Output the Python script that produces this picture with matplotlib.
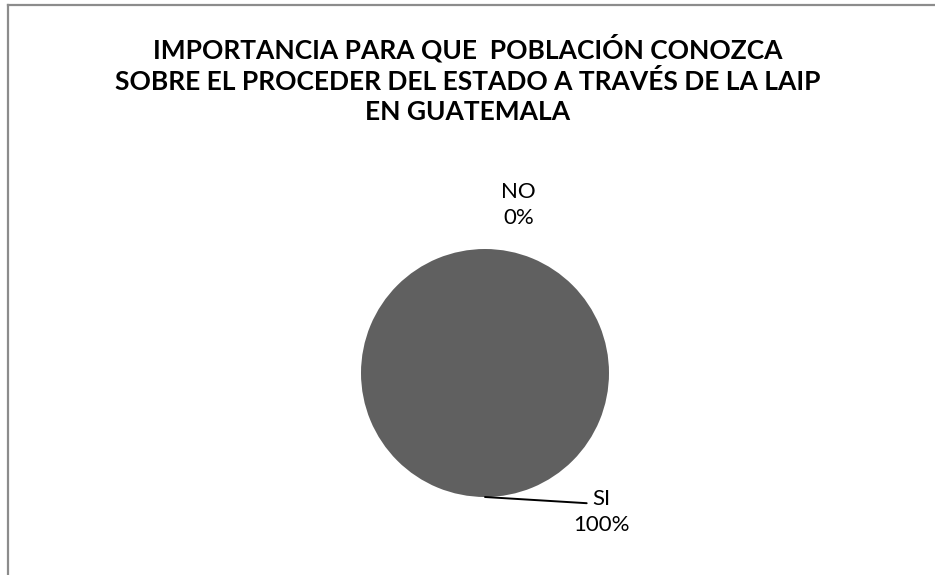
import matplotlib.pyplot as plt
import numpy as np
from matplotlib.lines import Line2D

plt.rcParams["font.family"] = ["Lato", "DejaVu Sans"]

title = "IMPORTANCIA PARA QUE  POBLACIÓN CONOZCA\nSOBRE EL PROCEDER DEL ESTADO A TRAVÉS DE LA LAIP\nEN GUATEMALA"
categories = ["SI", "NO"]
values = [100, 0]
colors = ["#606060", "#a0a0a0"]

W, H = 935, 575
fig = plt.figure(figsize=(W / 100, H / 100), dpi=100)

# chart border (only top and left visible, rest is cropped)
fig.add_artist(Line2D([8 / W, 8 / W], [0, 1 - 5 / H], color="#8c8c8c", lw=1.6))
fig.add_artist(Line2D([8 / W, 1], [1 - 5 / H, 1 - 5 / H], color="#8c8c8c", lw=1.6))

fig.text(468 / W, 1 - 79 / H, title, ha="center", va="center", fontsize=19,
         fontweight="bold", linespacing=1.3)

# pie axes: center (485, 373) px, radius 124 px
cx, cy, r = 485, 373, 124
ax = fig.add_axes([(cx - r) / W, (H - cy - r) / H, 2 * r / W, 2 * r / H])
wedges, _ = ax.pie(values, colors=colors, startangle=90, counterclock=False,
                   radius=1, wedgeprops=dict(linewidth=0))
ax.set_xlim(-1, 1)
ax.set_ylim(-1, 1)
ax.set_axis_off()

total = sum(values)
label_pos = {"SI": (0.94, -1.12), "NO": (0.27, 1.355)}
for w, cat, v in zip(wedges, categories, values):
    ang = np.deg2rad((w.theta1 + w.theta2) / 2)
    x, y = np.cos(ang), np.sin(ang)
    txt = f"{cat}\n{v / total:.0%}"
    tx, ty = label_pos[cat]
    if cat == "SI":
        ax.annotate("", xy=(x, y), xytext=(0.82, -1.05),
                    arrowprops=dict(arrowstyle="-", color="black", lw=1.4,
                                    shrinkA=0, shrinkB=0),
                    annotation_clip=False)
    ax.text(tx, ty, txt, ha="center", va="center", fontsize=16,
            linespacing=1.4, clip_on=False)

fig.savefig("out.png", dpi=100)
